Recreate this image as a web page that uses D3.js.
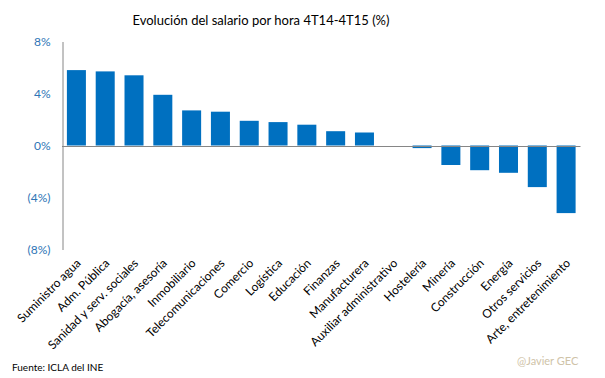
<!DOCTYPE html>
<html>
<head>
<meta charset="utf-8">
<script src="https://cdn.jsdelivr.net/npm/d3@7"></script>
<style>
  body { margin: 0; background: #fff; }
  svg { font-family: Lato, "Open Sans", sans-serif; }
</style>
</head>
<body>
<svg width="605" height="378"></svg>
<script>
// Sectors, ordered as in the picture.
var sectors = ["Suministro agua", "Adm. Pública", "Sanidad y serv. sociales", "Abogacía, asesoría",
    "Inmobiliario", "Telecomunicaciones", "Comercio", "Logística", "Educación", "Finanzas",
    "Manufacturera", "Auxiliar administrativo", "Hostelería", "Minería", "Construcción",
    "Energía", "Otros servicios", "Arte, entretenimiento"];

// Hourly wage change, 4T14-4T15, in percent.
var change = [5.8, 5.7, 5.4, 3.9, 2.7, 2.6, 1.9, 1.8, 1.6, 1.1, 1.0, 0.0, -0.2, -1.5, -1.9, -2.1, -3.2, -5.2];

var yTicks = [8, 4, 0, -4, -8];

var svg = d3.select("svg");

var x = d3.scaleBand()
    .domain(sectors)
    .range([62, 580.5])
    .paddingInner(0.34)
    .paddingOuter(0.17);

var y = d3.scaleLinear()
    .domain([-8, 8])
    .range([249.5, 41.5]);

// Title.
svg.append("text")
    .attr("x", 261)
    .attr("y", 25)
    .attr("text-anchor", "middle")
    .attr("font-size", 13)
    .attr("fill", "#000")
    .text("Evolución del salario por hora 4T14-4T15 (%)");

// Bars.
svg.append("g").selectAll("rect")
    .data(change)
    .join("rect")
    .attr("x", function(d, i) { return x(sectors[i]); })
    .attr("width", x.bandwidth())
    .attr("y", function(d) { return y(Math.max(0, d)); })
    .attr("height", function(d) { return Math.abs(y(d) - y(0)); })
    .attr("fill", "#0070c0");

// Y axis, labels in blue, negatives in brackets.
var yAxis = d3.axisLeft(y)
    .tickValues(yTicks)
    .tickSize(0)
    .tickPadding(12)
    .tickFormat(function(d) { return d < 0 ? "(" + (-d) + "%)" : d + "%"; });

var gy = svg.append("g")
    .attr("transform", "translate(62.5,0)")
    .call(yAxis);
gy.select(".domain").attr("stroke", "#868686");
gy.selectAll("text")
    .attr("font-family", "Lato, sans-serif")
    .attr("font-size", 12)
    .attr("fill", "#2e75b6");

// Zero line.
svg.append("line")
    .attr("x1", 62)
    .attr("x2", 580.5)
    .attr("y1", Math.round(y(0)) + 0.5)
    .attr("y2", Math.round(y(0)) + 0.5)
    .attr("stroke", "#868686");

// Category labels, rotated, hung below the plot.
svg.append("g").selectAll("text")
    .data(sectors)
    .join("text")
    .attr("transform", function(d) {
        return "translate(" + (x(d) + x.bandwidth() / 2 + 5) + ",264) rotate(-45)";
    })
    .attr("text-anchor", "end")
    .attr("font-size", 12)
    .attr("fill", "#000")
    .text(function(d) { return d; });

// Source and credit.
svg.append("text")
    .attr("x", 12)
    .attr("y", 371)
    .attr("font-size", 10)
    .attr("fill", "#000")
    .text("Fuente:  ICLA del INE");

svg.append("text")
    .attr("x", 517)
    .attr("y", 365)
    .attr("font-size", 11)
    .attr("fill", "#cfc3a8")
    .text("@Javier GEC");
</script>
</body>
</html>
